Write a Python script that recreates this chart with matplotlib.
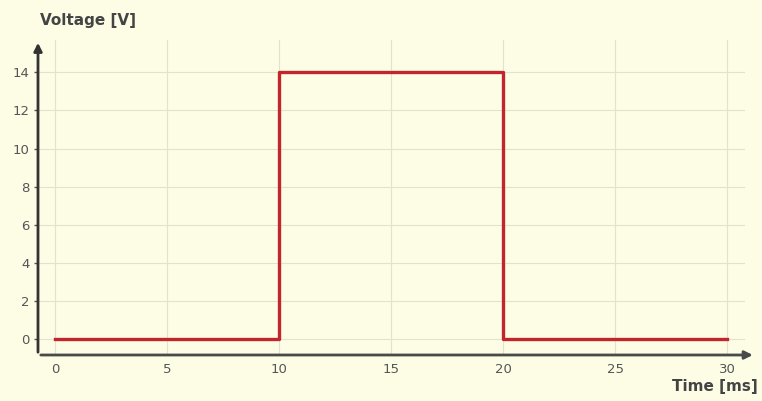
import numpy as np
import matplotlib.pyplot as plt

# data
time_ms = [0, 10, 10, 20, 20, 30]
voltage = [0, 0, 14, 14, 0, 0]
x_ticks = [0, 5, 10, 15, 20, 25, 30]
y_ticks = [0, 2, 4, 6, 8, 10, 12, 14]

bg = "#fdfde6"
fig = plt.figure(figsize=(7.62, 4.01), dpi=100, facecolor=bg)
ax = fig.add_axes([38 / 762, 1 - 355 / 401, (745 - 38) / 762, (355 - 40) / 401])
ax.set_facecolor(bg)

ax.plot(time_ms, voltage, color="#c0262c", lw=2.4, solid_joinstyle="round", zorder=3)

ax.set_xlim(-0.76, 30.8)
ax.set_ylim(-0.84, 15.7)
ax.set_xticks(x_ticks)
ax.set_yticks(y_ticks)
ax.grid(True, color="#e2e2cf", lw=0.8)
ax.tick_params(colors="#555555", labelsize=9.5, length=3, width=1)
ax.tick_params(axis="x", length=0, pad=6)
ax.tick_params(axis="y", pad=3)
for s in ax.spines.values():
    s.set_visible(False)

# axes with arrows
ax.annotate("", xy=(1.015, 0), xytext=(0, 0), xycoords="axes fraction",
            arrowprops=dict(arrowstyle="-|>", color="#4a4a4a", lw=2, mutation_scale=12),
            annotation_clip=False)
ax.annotate("", xy=(0, 1.0), xytext=(0, 0), xycoords="axes fraction",
            arrowprops=dict(arrowstyle="-|>", color="#333333", lw=2, mutation_scale=12),
            annotation_clip=False)

fig.text(40 / 762, 1 - 21 / 401, "Voltage [V]", fontsize=11, fontweight="bold",
         color="#444444", va="center", ha="left")
fig.text(758 / 762, 1 - 386 / 401, "Time [ms]", fontsize=11, fontweight="bold",
         color="#444444", va="center", ha="right")

fig.savefig("out.png", dpi=100, facecolor=bg)
